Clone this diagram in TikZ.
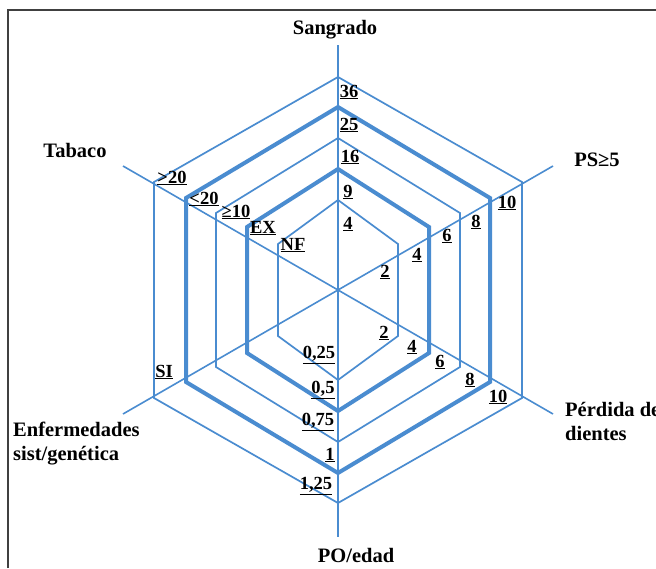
\documentclass[tikz,border=0pt]{standalone}
\usepackage{fontspec}
\setmainfont{Liberation Serif}
\begin{document}
\begin{tikzpicture}[x=1pt,y=-1pt,
  ax/.style={draw=chartblue,line width=1.6pt},
  thinring/.style={draw=chartblue,line width=1.7pt},
  thickring/.style={draw=chartblue,line width=4pt},
  frameline/.style={draw=black!75,line width=2pt},
  title/.style={font=\bfseries\fontsize{20.5}{24}\selectfont,inner sep=0pt},
  val/.style={font=\bfseries\fontsize{18.5}{20}\selectfont,inner sep=0pt}]
\definecolor{chartblue}{RGB}{74,140,208}
\useasboundingbox (0,0) rectangle (656,568);
\fill[white] (0,0) rectangle (656,568);
\draw[frameline] (8,568) -- (8,10) -- (656,10);
% centre and axis ends
\coordinate (O) at (338,290);
\coordinate (aS) at (338,45);
\coordinate (aP) at (553,166);
\coordinate (aD) at (553,414);
\coordinate (aE) at (338,537);
\coordinate (aF) at (123,414);
\coordinate (aT) at (123,166);
\foreach \e in {aS,aP,aD,aE,aF,aT} \draw[ax] (O) -- (\e);
% rings
\foreach \R/\H/\W/\s in {90/46/60/thinring,121/63/91/thickring,152/77/122/thinring,183/92/152/thickring,213/108/184/thinring}
  \draw[\s] (338,290-\R) -- (338+\W,290-\H) -- (338+\W,290+\H) -- (338,290+\R) -- (338-\W,290+\H) -- (338-\W,290-\H) -- cycle;
% titles
\node[title] (tS) at (335,30) {Sangrado};
\node[title] (tP) at (597,160) {PS≥5};
\node[title] (tT) at (75,150) {Tabaco};
\node[title,anchor=west,align=left] (tD) at (565,421) {Pérdida de\\dientes};
\node[title,anchor=west,align=left] (tF) at (13,444) {Enfermedades\\sist/genética};
\node[title] (tE) at (356,555) {PO/edad};
% Sangrado values
\node[val] (s36) at (349,92) {\underline{36}};
\node[val] (s25) at (349,125) {\underline{25}};
\node[val] (s16) at (350,157) {\underline{16}};
\node[val] (s9) at (348,192) {\underline{9}};
\node[val] (s4) at (348,224) {\underline{4}};
% PS values
\node[val] (p10) at (507,203) {\underline{10}};
\node[val] (p8) at (476,222) {\underline{8}};
\node[val] (p6) at (447,236) {\underline{6}};
\node[val] (p4) at (417,255) {\underline{4}};
\node[val] (p2) at (385,272) {\underline{2}};
% Perdida values
\node[val] (d2) at (384,333) {\underline{2}};
\node[val] (d4) at (412,347) {\underline{4}};
\node[val] (d6) at (440,362) {\underline{6}};
\node[val] (d8) at (470,380) {\underline{8}};
\node[val] (d10) at (498,397) {\underline{10}};
% PO/edad values
\node[val] (e1) at (319,355) {\underline{0,25}};
\node[val] (e2) at (323,390) {\underline{0,5}};
\node[val] (e3) at (318,422) {\underline{0,75}};
\node[val] (e4) at (330,455) {\underline{1}};
\node[val] (e5) at (316,486) {\underline{1,25}};
% Enfermedades
\node[val] (f1) at (164,372) {\underline{SI}};
% Tabaco values
\node[val] (t5) at (172,178) {\underline{>20}};
\node[val] (t4) at (204,199) {\underline{<20}};
\node[val] (t3) at (236,212) {\underline{≥10}};
\node[val] (t2) at (263,228) {\underline{EX}};
\node[val] (t1) at (293,245) {\underline{NF}};
\end{tikzpicture}
\end{document}
